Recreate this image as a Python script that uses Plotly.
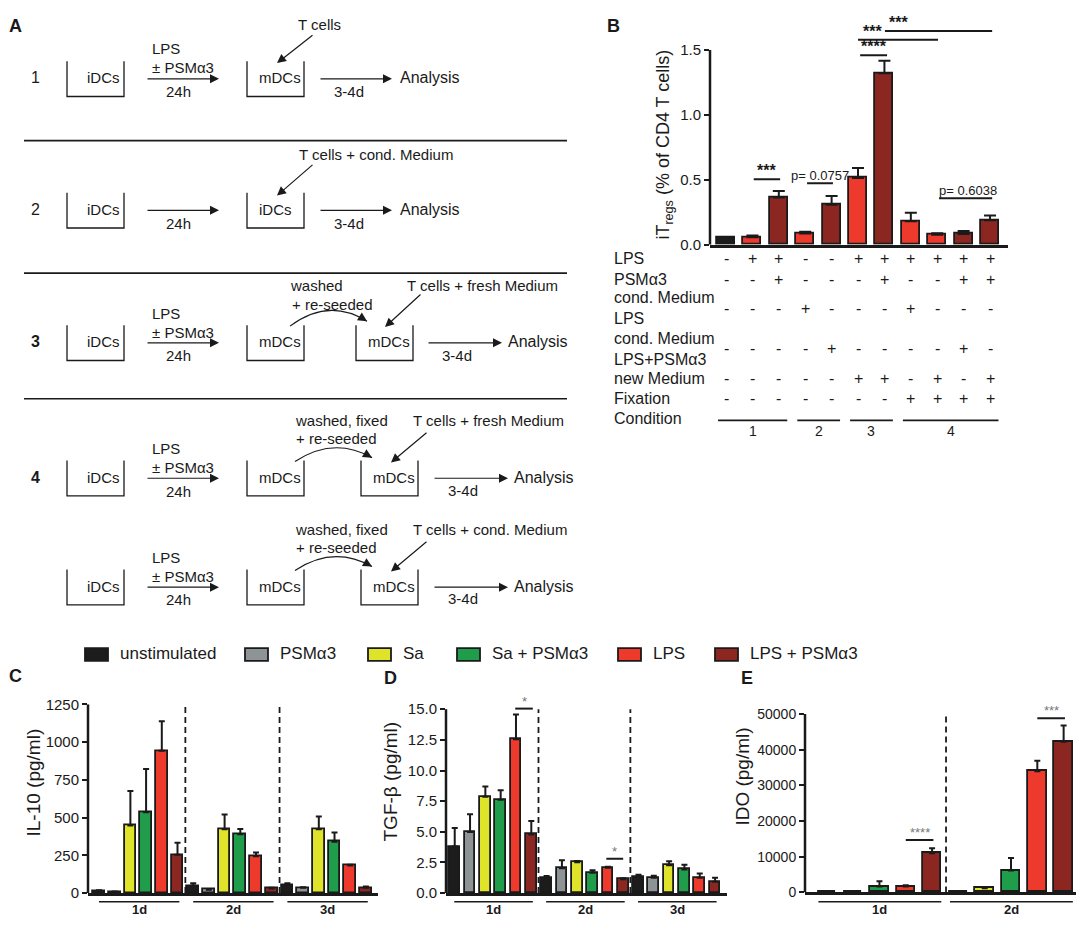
import plotly.graph_objects as go

# The page adds an 8px body margin, so the figure is drawn 16px smaller than the
# 1084x929 window and every position below is given in window pixels.
PAGE_W, PAGE_H, OFF = 1084, 929, 8
W, H = PAGE_W - 2 * OFF, PAGE_H - 2 * OFF
FONT = "Liberation Sans, Arial, sans-serif"
INK = "#1a1a1a"

###############################################################################
# Data
###############################################################################
stim_names = ["unstimulated", "PSMα3", "Sa", "Sa + PSMα3", "LPS", "LPS + PSMα3"]
stim_colors = ["#1c1c1c", "#8e9396", "#dfe42b", "#1f9d4b", "#ee3a2c", "#8c2621"]
color_of = dict(zip(stim_names, stim_colors))
days = ["1d", "2d", "3d"]

# Panel B - iTregs (% of CD4 T cells)
itreg_stim = ["unstimulated", "LPS", "LPS + PSMα3", "LPS", "LPS + PSMα3", "LPS",
              "LPS + PSMα3", "LPS", "LPS", "LPS + PSMα3", "LPS + PSMα3"]
itreg_vals = [0.055, 0.058, 0.363, 0.086, 0.308, 0.514, 1.321, 0.180, 0.076, 0.083, 0.189]
itreg_err = [0.005, 0.012, 0.050, 0.014, 0.068, 0.076, 0.096, 0.067, 0.012, 0.023, 0.035]

table_labels = ["LPS", "PSMα3", "cond. Medium<br>LPS", "cond. Medium<br>LPS+PSMα3",
                "new Medium", "Fixation"]
table_rows = [
    ["-", "+", "+", "-", "-", "+", "+", "+", "+", "+", "+"],
    ["-", "-", "+", "-", "-", "-", "+", "-", "-", "+", "+"],
    ["-", "-", "-", "+", "-", "-", "-", "+", "-", "-", "-"],
    ["-", "-", "-", "-", "+", "-", "-", "-", "-", "+", "-"],
    ["-", "-", "-", "-", "-", "+", "+", "-", "+", "-", "+"],
    ["-", "-", "-", "-", "-", "-", "-", "+", "+", "+", "+"],
]
conditions = ["1", "2", "3", "4"]
condition_bars = [[0, 1, 2], [3, 4], [5, 6], [7, 8, 9, 10]]

# Panel C - IL-10 (pg/ml), 1d / 2d / 3d
il10_vals = [14, 8, 448, 535, 942, 253, 48, 22, 422, 390, 243, 30, 54, 35, 422, 340, 182, 35]
il10_err = [5, 3, 228, 286, 195, 81, 17, 4, 98, 35, 26, 5, 11, 4, 85, 61, 6, 8]

# Panel D - TGF-beta (pg/ml), 1d / 2d / 3d
tgfb_vals = [3.79, 4.99, 7.85, 7.61, 12.54, 4.78, 1.20, 2.03, 2.51, 1.65, 2.06, 1.12,
             1.33, 1.25, 2.27, 1.92, 1.25, 0.93]
tgfb_err = [1.52, 1.44, 0.85, 0.77, 2.03, 1.09, 0.19, 0.64, 0.11, 0.22, 0.08, 0.08,
            0.16, 0.16, 0.32, 0.40, 0.35, 0.32]

# Panel E - IDO (pg/ml), 1d / 2d
ido_stim = ["unstimulated", "Sa", "Sa + PSMα3", "LPS", "LPS + PSMα3"]
ido_vals = [0, 0, 1650, 1650, 11000, 0, 1190, 6150, 33950, 42200]
ido_err = [0, 0, 1470, 370, 1380, 0, 100, 3490, 2940, 4590]


###############################################################################
# Helpers (window pixel positions -> paper coordinates)
###############################################################################
shapes = []
annotations = []


def px(x):
    return (x - OFF) / W


def py(y):
    return 1 - (y - OFF) / H


def text(s, x, y, size=15, anchor="left", bold=False, color=INK, angle=0):
    if bold:
        s = "<b>" + s + "</b>"
    annotations.append(dict(text=s, x=px(x), y=py(y), xref="paper", yref="paper",
                            xanchor=anchor, yanchor="middle", showarrow=False,
                            textangle=angle, align="left",
                            font=dict(family=FONT, size=size, color=color)))


def arrow(x0, y0, x1, y1):
    annotations.append(dict(text="", x=px(x1), y=py(y1), xref="paper", yref="paper",
                            ax=x0 - x1, ay=y0 - y1, showarrow=True, arrowhead=2,
                            arrowsize=1.5, arrowwidth=1.2, arrowcolor=INK, standoff=0))


def line(x0, y0, x1, y1, width=1.5):
    shapes.append(dict(type="line", xref="paper", yref="paper", x0=px(x0), y0=py(y0),
                       x1=px(x1), y1=py(y1), line=dict(color=INK, width=width)))


def well(x0, x1, top, label):
    bottom = top + 36
    path = "M {},{} L {},{} L {},{} L {},{}".format(px(x0), py(top), px(x0), py(bottom),
                                                    px(x1), py(bottom), px(x1), py(top))
    shapes.append(dict(type="path", xref="paper", yref="paper", path=path,
                       line=dict(color=INK, width=1.3)))
    text(label, x0 + 10 if x0 > 100 else x0 + 18, top + 17)


def curve(x0, y0, x1, y1, peak):
    cx = (x0 + x1) / 2
    cy = 2 * peak - (y0 + y1) / 2
    path = "M {},{} Q {},{} {},{}".format(px(x0), py(y0), px(cx), py(cy), px(x1), py(y1))
    shapes.append(dict(type="path", xref="paper", yref="paper", path=path,
                       line=dict(color=INK, width=1.2)))
    dx, dy = x1 - cx, y1 - cy
    n = (dx * dx + dy * dy) ** 0.5
    arrow(x1 - 7 * dx / n, y1 - 7 * dy / n, x1, y1)


###############################################################################
# Panel A - schematic
###############################################################################
text("A", 15, 17, size=18, anchor="center", bold=True)
text("B", 613, 17, size=18, anchor="center", bold=True)

for ysep in [134, 269, 397]:
    line(24, ysep, 567, ysep, width=1.6)

# row 1
text("1", 35, 70, size=16, anchor="center")
well(67, 124, 53, "iDCs")
text("LPS", 150, 40)
text("± PSMα3", 150, 59)
arrow(146, 71, 219, 71)
text("24h", 178, 84, anchor="center")
well(247, 304, 53, "mDCs")
text("T cells", 319, 16, anchor="center")
arrow(314, 26, 277, 55)
arrow(319, 71, 392, 71)
text("3-4d", 349, 84, anchor="center")
text("Analysis", 398, 70, size=16)

# row 2
text("2", 35, 204, size=16, anchor="center")
well(67, 124, 187, "iDCs")
arrow(146, 205, 219, 205)
text("24h", 178, 218, anchor="center")
well(247, 304, 187, "iDCs")
text("T cells + cond. Medium", 297, 148)
arrow(314, 158, 277, 190)
arrow(319, 205, 392, 205)
text("3-4d", 349, 218, anchor="center")
text("Analysis", 398, 204, size=16)

# row 3
text("3", 35, 339, size=16, anchor="center", bold=True)
well(67, 124, 322, "iDCs")
text("LPS", 150, 310)
text("± PSMα3", 150, 329)
arrow(146, 340, 219, 340)
text("24h", 178, 353, anchor="center")
well(247, 304, 322, "mDCs")
text("washed", 288, 282)
text("+ re-seeded", 290, 301)
curve(290, 323, 367, 318, 307)
well(356, 413, 322, "mDCs")
text("T cells + fresh Medium", 405, 282)
arrow(422, 290, 385, 324)
arrow(427, 340, 502, 340)
text("3-4d", 457, 353, anchor="center")
text("Analysis", 506, 339, size=16)

# row 4 (two variants)
text("4", 35, 477, size=16, anchor="center", bold=True)
for top, medium in [(460, "T cells + fresh Medium"), (571, "T cells + cond. Medium")]:
    mid = top + 17
    well(67, 124, top, "iDCs")
    text("LPS", 150, top - 12)
    text("± PSMα3", 150, top + 7)
    arrow(146, mid + 1, 219, mid + 1)
    text("24h", 178, mid + 14, anchor="center")
    well(247, 304, top, "mDCs")
    text("washed, fixed", 293, top - 41)
    text("+ re-seeded", 294, top - 22)
    curve(295, top + 1, 372, top - 3, top - 13)
    well(361, 418, top, "mDCs")
    text(medium, 411, top - 41)
    arrow(428, top - 29, 391, top + 2)
    arrow(433, mid + 1, 508, mid + 1)
    text("3-4d", 463, mid + 13, anchor="center")
    text("Analysis", 512, mid, size=16)


###############################################################################
# Bar charts
###############################################################################
fig = go.Figure()


def bars(vals, errs, colors, axis, width, cap):
    fig.add_trace(go.Bar(
        x=list(range(len(vals))), y=vals,
        marker=dict(color=colors, line=dict(color=INK, width=1.8)),
        error_y=dict(type="data", symmetric=False, array=errs, arrayminus=[0] * len(vals),
                     color=INK, thickness=2, width=cap),
        width=width, xaxis="x" + axis, yaxis="y" + axis, showlegend=False,
        hoverinfo="x+y"))


bars(itreg_vals, itreg_err, [color_of[s] for s in itreg_stim], "", 0.68, 6)
bars(il10_vals, il10_err, stim_colors * 3, "2", 0.74, 3)
bars(tgfb_vals, tgfb_err, stim_colors * 3, "3", 0.70, 3)
bars(ido_vals, ido_err, [color_of[s] for s in ido_stim] * 2, "4", 0.70, 3)


def xax(x0, x1, rng, anchor):
    return dict(domain=[px(x0), px(x1)], range=rng, anchor=anchor, showline=True,
                linewidth=2.5, linecolor=INK, showticklabels=False, ticks="",
                showgrid=False, zeroline=False, fixedrange=True)


def yax(top, bottom, rng, tickvals, fmt, anchor, size=15):
    return dict(domain=[py(bottom), py(top)], range=rng, anchor=anchor, showline=False,
                tickvals=tickvals, tickformat=fmt, ticks="outside", ticklen=5,
                tickwidth=2, tickcolor=INK, showgrid=False, zeroline=False,
                tickfont=dict(family=FONT, size=size, color=INK), fixedrange=True)


def yline(axis, top):
    shapes.append(dict(type="line", xref="x" + axis + " domain", yref="y" + axis,
                       x0=0, x1=0, y0=0, y1=top, line=dict(color=INK, width=2.5)))


def vdash(axis, x, top):
    shapes.append(dict(type="line", xref="x" + axis, yref="y" + axis, x0=x, x1=x,
                       y0=0, y1=top, line=dict(color=INK, width=1.8, dash="6px,4px")))


def sig(axis, x0, x1, y, label, xt=None, size=16, color=INK, bold=True):
    shapes.append(dict(type="line", xref="x" + axis, yref="y" + axis, x0=x0, x1=x1,
                       y0=y, y1=y, line=dict(color=INK, width=2)))
    annotations.append(dict(text=("<b>" + label + "</b>") if bold else label,
                            x=(x0 + x1) / 2 if xt is None else xt, y=y,
                            xref="x" + axis, yref="y" + axis, yanchor="bottom",
                            xanchor="center", showarrow=False, yshift=-2,
                            font=dict(family=FONT, size=size, color=color)))


# ---- Panel B ----
yline("", 1.5)
text("iT<sub>regs</sub> (% of CD4 T cells)", 665, 138, size=18, anchor="center", angle=-90)
sig("", 1.05, 2.05, 0.504, "***")
sig("", 3.07, 4.05, 0.474, "p= 0.0757", xt=3.56, size=13, bold=False)
sig("", 5.08, 6.1, 1.46, "****")
sig("", 5.0, 8.03, 1.58, "***", xt=5.55)
sig("", 6.02, 10.08, 1.646, "***", xt=6.55)
sig("", 8.07, 10.08, 0.358, "p= 0.6038", xt=9.17, size=13, bold=False)

row_y = [254, 275, 305, 346, 376, 397]
for label, symbols, yrow in zip(table_labels, table_rows, row_y):
    text(label, 612, yrow, size=16)
    for i, s in enumerate(symbols):
        annotations.append(dict(text=s, x=i, y=py(yrow), xref="x", yref="paper",
                                xanchor="center", yanchor="middle", showarrow=False,
                                font=dict(family=FONT, size=16, color=INK)))
text("Condition", 612, 417, size=16)
for name, idx in zip(conditions, condition_bars):
    a, b = idx[0] - 0.3, idx[-1] + 0.32
    shapes.append(dict(type="line", xref="x", yref="paper", x0=a, x1=b,
                       y0=py(419), y1=py(419), line=dict(color=INK, width=1.6)))
    annotations.append(dict(text=name, x=(a + b) / 2, y=py(430), xref="x", yref="paper",
                            xanchor="center", yanchor="middle", showarrow=False,
                            font=dict(family=FONT, size=14, color=INK)))


# ---- Legend for C-E ----
legend_x = [85, 245, 368, 457, 618, 715]
for name, col, lx in zip(stim_names, stim_colors, legend_x):
    shapes.append(dict(type="rect", xref="paper", yref="paper", x0=px(lx), x1=px(lx + 23),
                       y0=py(664), y1=py(651), fillcolor=col,
                       line=dict(color=INK, width=1.8)))
    text(name, lx + 33, 657, size=17)


def day_groups(axis, n_per, n_days, pad0, pad1):
    for d in range(n_days):
        a, b = d * n_per - pad0, (d + 1) * n_per - 1 + pad1
        shapes.append(dict(type="line", xref="x" + axis, yref="paper", x0=a, x1=b,
                           y0=py(909.5), y1=py(909.5), line=dict(color=INK, width=1.6)))
        annotations.append(dict(text="<b>" + days[d] + "</b>", x=(a + b) / 2, y=py(917),
                                xref="x" + axis, yref="paper", xanchor="center",
                                yanchor="middle", showarrow=False,
                                font=dict(family=FONT, size=13, color=INK)))


# ---- Panel C ----
text("C", 15, 680, size=18, anchor="center", bold=True)
text("IL-10 (pg/ml)", 33, 788, size=19, anchor="center", angle=-90)
yline("2", 1250)
vdash("2", 5.5, 1250)
vdash("2", 11.5, 1250)
day_groups("2", 6, 3, 0.0, 0.12)

# ---- Panel D ----
text("D", 390, 682, size=18, anchor="center", bold=True)
text("TGF-β (pg/ml)", 390, 787, size=19, anchor="center", angle=-90)
yline("3", 15)
vdash("3", 5.47, 15)
vdash("3", 11.47, 15)
day_groups("3", 6, 3, 0.03, 0.1)
sig("3", 3.95, 5.1, 15.05, "*", size=13, color="#777", bold=False)
sig("3", 9.9, 11.0, 2.8, "*", size=13, color="#777", bold=False)

# ---- Panel E ----
text("E", 747, 682, size=18, anchor="center", bold=True)
text("IDO (pg/ml)", 743, 782, size=19, anchor="center", angle=-90)
yline("4", 50000)
vdash("4", 4.53, 50000)
day_groups("4", 5, 2, 0.32, 0.35)
sig("4", 3.0, 4.05, 14679, "****", size=13, color="#777", bold=False)
sig("4", 8.0, 9.05, 48807, "***", size=13, color="#777", bold=False)

fig.update_layout(
    width=W, height=H, autosize=False,
    margin=dict(l=0, r=0, t=0, b=0),
    paper_bgcolor="white", plot_bgcolor="rgba(0,0,0,0)",
    font=dict(family=FONT, color=INK),
    bargap=0,
    showlegend=False,
    xaxis=xax(710, 1008, [-0.606, 10.68], "y"),
    yaxis=yax(8.6, 240, [0, 1.75], [0, 0.5, 1.0, 1.5], ".1f", "x"),
    xaxis2=xax(88, 378, [-0.7, 17.77], "y2"),
    yaxis2=yax(708.3, 900.7, [0, 1250], [0, 250, 500, 750, 1000, 1250], "d", "x2"),
    xaxis3=xax(446, 727, [-0.57, 17.78], "y3"),
    yaxis3=yax(707.1, 900.7, [0, 15.5], [0, 2.5, 5, 7.5, 10, 12.5, 15], ".1f", "x3"),
    xaxis4=xax(805, 1076, [-0.83, 9.47], "y4"),
    yaxis4=yax(711, 900, [0, 52000], [0, 10000, 20000, 30000, 40000, 50000], "d", "x4",
               size=14),
    shapes=shapes,
    annotations=annotations,
)

fig.write_html("out.html")
